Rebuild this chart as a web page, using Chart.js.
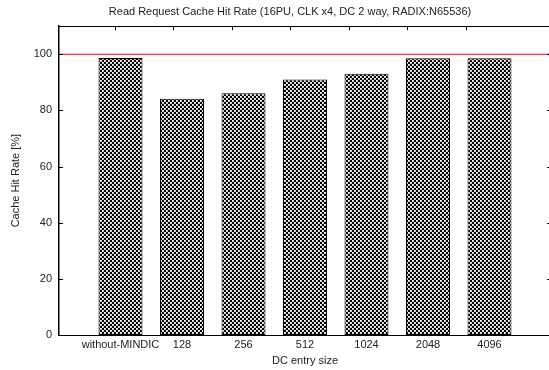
<!DOCTYPE html>
<html>
<head>
<meta charset="utf-8">
<script src="https://cdn.jsdelivr.net/npm/chart.js@4/dist/chart.umd.min.js"></script>
<style>
  html, body { margin: 0; padding: 0; background: #fff; overflow: hidden; width: 549px; height: 370px; }
  #wrap { width: 549px; height: 370px; overflow: hidden; position: relative; }
  #c { position: absolute; left: 0; top: 0; }
</style>
</head>
<body>
<div id="wrap"><canvas id="c" width="580" height="370"></canvas></div>
<script>
// DC entry sizes along the x axis
const categories = ['without-MINDIC', '128', '256', '512', '1024', '2048', '4096'];
// Read request cache hit rate per configuration, in percent
const hitRates = [98.7, 84.2, 86.1, 91.0, 93.1, 98.6, 98.6];
// Horizontal reference level
const referenceLevel = 100;
// Value axis tick labels
const yTickValues = [0, 20, 40, 60, 80, 100];

const FONT = "'Liberation Sans', Arial, Helvetica, sans-serif";
const TEXT = '#222';

// checkered fill for the bars
function checkerPattern() {
  const t = document.createElement('canvas');
  t.width = 4; t.height = 4;
  const g = t.getContext('2d');
  g.fillStyle = '#000';
  g.fillRect(0, 0, 4, 4);
  const cell = (x, y) => {
    g.fillStyle = '#fff'; g.fillRect(x, y, 1, 1);
    g.fillStyle = '#ddd'; g.fillRect(x + 1, y, 1, 1); g.fillRect(x, y + 1, 1, 1);
    g.fillStyle = '#b8b8b8'; g.fillRect(x + 1, y + 1, 1, 1);
  };
  cell(0, 0);
  cell(2, 2);
  return g.createPattern(t, 'repeat');
}

// tick marks drawn pointing into the plot, as on a framed plot
const innerTicks = {
  id: 'innerTicks',
  afterDraw(chart) {
    const ctx = chart.ctx;
    const a = chart.chartArea;
    const y = chart.scales.y;
    const x2 = chart.scales.x2;
    const len = 4;
    ctx.save();
    ctx.strokeStyle = '#000';
    ctx.lineWidth = 1;
    ctx.beginPath();
    yTickValues.forEach(v => {
      if (v === 0) return;
      const py = Math.round(y.getPixelForValue(v)) + 0.5;
      ctx.moveTo(a.left, py); ctx.lineTo(a.left + len, py);
      ctx.moveTo(a.right, py); ctx.lineTo(a.right - len, py);
    });
    categories.forEach((c, i) => {
      const px = Math.round(x2.getPixelForValue(i + 1)) + 0.5;
      ctx.moveTo(px, a.top); ctx.lineTo(px, a.top + len);
    });
    ctx.stroke();
    ctx.restore();
  }
};

new Chart(document.getElementById('c'), {
  type: 'bar',
  data: {
    datasets: [
      {
        type: 'bar',
        data: hitRates.map((v, i) => ({ x: i, y: v })),
        backgroundColor: checkerPattern(),
        borderColor: '#000',
        borderWidth: 1,
        borderSkipped: false,
        categoryPercentage: 1,
        barPercentage: 0.715,
        xAxisID: 'x',
        yAxisID: 'y'
      },
      {
        type: 'line',
        data: [{ x: -1, y: referenceLevel }, { x: categories.length, y: referenceLevel }],
        borderColor: '#ff0000',
        borderWidth: 1.2,
        pointRadius: 0,
        fill: false,
        xAxisID: 'x',
        yAxisID: 'y'
      }
    ]
  },
  options: {
    responsive: false,
    animation: false,
    events: [],
    layout: { padding: 0 },
    plugins: {
      legend: { display: false },
      tooltip: { enabled: false },
      title: {
        display: true,
        text: 'Read Request Cache Hit Rate (16PU, CLK x4, DC 2 way, RADIX:N65536)',
        color: TEXT,
        font: { family: FONT, size: 11, weight: 'normal' },
        padding: { top: 5, bottom: 8 }
      }
    },
    scales: {
      x: {
        type: 'linear',
        position: 'bottom',
        min: -1,
        max: categories.length,
        offset: false,
        grid: { display: false, drawTicks: false },
        border: { display: true, color: '#000', width: 1 },
        ticks: {
          stepSize: 1,
          autoSkip: false,
          maxRotation: 0,
          padding: 3,
          color: TEXT,
          font: { family: FONT, size: 11 },
          callback: v => (categories[v] !== undefined ? categories[v] : '')
        },
        title: {
          display: true,
          text: 'DC entry size',
          color: TEXT,
          font: { family: FONT, size: 11 },
          padding: { top: 0, bottom: 2 }
        },
        afterFit: s => { s.height = 35; }
      },
      x2: {
        type: 'linear',
        position: 'top',
        min: 0.043,
        max: 8.453,
        offset: false,
        grid: { display: false, drawTicks: false },
        border: { display: true, color: '#000', width: 1 },
        ticks: { display: false },
        afterFit: s => { s.height = 0; }
      },
      y: {
        type: 'linear',
        position: 'left',
        min: 0,
        max: 110,
        grid: { display: false, drawTicks: false },
        border: { display: true, color: '#000', width: 1.5 },
        ticks: {
          padding: 7,
          color: TEXT,
          font: { family: FONT, size: 11 }
        },
        afterBuildTicks: s => { s.ticks = yTickValues.map(v => ({ value: v })); },
        title: {
          display: true,
          text: 'Cache Hit Rate [%]',
          color: TEXT,
          font: { family: FONT, size: 11 },
          padding: { top: 9, bottom: 0 }
        },
        afterFit: s => { s.width = 59; }
      },
      y2: {
        type: 'linear',
        position: 'right',
        min: 0,
        max: 110,
        grid: { display: false, drawTicks: false },
        border: { display: true, color: '#000', width: 1 },
        ticks: { display: false },
        afterFit: s => { s.width = 29; }
      }
    }
  },
  plugins: [innerTicks]
});
</script>
</body>
</html>
